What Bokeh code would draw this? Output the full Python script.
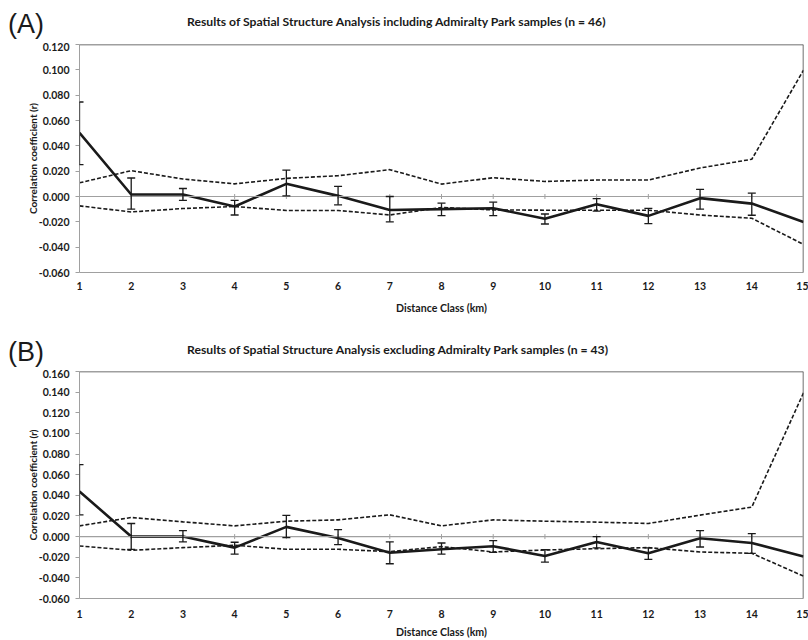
import math
from bokeh.plotting import figure
from bokeh.layouts import column, row
from bokeh.models import (ColumnDataSource, Whisker, TeeHead, Span, Div, Spacer,
                          NumeralTickFormatter, FixedTicker, Range1d)
from bokeh.embed import file_html
from bokeh.resources import INLINE

classes = list(range(1, 16))
x_ticks = list(range(1, 16))

# Panel A (including Admiralty Park, n = 46)
a_mean = [0.0503, 0.0016, 0.0016, -0.0079, 0.0100, 0.0005, -0.0106, -0.0100,
          -0.0093, -0.0175, -0.0061, -0.0153, -0.0013, -0.0056, -0.0201]
a_err_hi = [0.0746, 0.0146, 0.0063, -0.0030, 0.0209, 0.0080, 0.0000, -0.0053,
            -0.0045, -0.0138, -0.0016, -0.0093, 0.0056, 0.0026]
a_err_lo = [0.0251, -0.0100, -0.0030, -0.0146, 0.0005, -0.0066, -0.0200, -0.0151,
            -0.0151, -0.0217, -0.0116, -0.0214, -0.0100, -0.0148]
a_upper = [0.0108, 0.0204, 0.0138, 0.0100, 0.0143, 0.0164, 0.0212, 0.0098,
           0.0148, 0.0119, 0.0130, 0.0130, 0.0225, 0.0294, 0.0997]
a_lower = [-0.0074, -0.0122, -0.0095, -0.0079, -0.0110, -0.0110, -0.0146, -0.0087,
           -0.0106, -0.0108, -0.0108, -0.0108, -0.0146, -0.0172, -0.0378]
a_yticks = [-0.06, -0.04, -0.02, 0.0, 0.02, 0.04, 0.06, 0.08, 0.10, 0.12]
a_tag = "(A)"
a_title = "Results of Spatial Structure Analysis including Admiralty Park samples (n = 46)"

# Panel B (excluding Admiralty Park, n = 43)
b_mean = [0.0438, 0.0000, 0.0000, -0.0107, 0.0094, -0.0013, -0.0156, -0.0123,
          -0.0094, -0.0188, -0.0052, -0.0162, -0.0016, -0.0062, -0.0192]
b_err_hi = [0.0698, 0.0127, 0.0058, -0.0055, 0.0205, 0.0068, -0.0052, -0.0062,
            -0.0039, -0.0127, 0.0000, -0.0110, 0.0058, 0.0029]
b_err_lo = [0.0211, -0.0123, -0.0052, -0.0169, -0.0010, -0.0078, -0.0263, -0.0169,
            -0.0153, -0.0247, -0.0110, -0.0221, -0.0101, -0.0162]
b_upper = [0.0104, 0.0185, 0.0143, 0.0104, 0.0149, 0.0162, 0.0211, 0.0104,
           0.0162, 0.0149, 0.0140, 0.0127, 0.0208, 0.0286, 0.1393]
b_lower = [-0.0091, -0.0133, -0.0107, -0.0084, -0.0123, -0.0123, -0.0146, -0.0097,
           -0.0149, -0.0130, -0.0117, -0.0107, -0.0149, -0.0162, -0.0383]
b_yticks = [-0.06, -0.04, -0.02, 0.0, 0.02, 0.04, 0.06, 0.08, 0.10, 0.12, 0.14, 0.16]
b_tag = "(B)"
b_title = "Results of Spatial Structure Analysis excluding Admiralty Park samples (n = 43)"

FONT = "Lato"
AX_GRAY = "#a0a0a0"
INK = "#1a1a1a"


def header(tag, title, height, tag_top, title_top):
    tag_div = Div(
        text=(f'<div style="margin-top:{tag_top}px;margin-left:8px;'
              f'line-height:30px;font-family:\'Liberation Sans\';'
              f'font-size:27px;color:{INK};white-space:nowrap">{tag}</div>'),
        width=79, height=height, margin=0)
    title_div = Div(
        text=(f'<div style="margin-top:{title_top}px;margin-left:108px;'
              f'line-height:16px;font-family:{FONT};font-weight:bold;'
              f'font-size:12.2px;color:{INK};white-space:nowrap">{title}</div>'),
        width=729, height=height, margin=0)
    return row(tag_div, title_div, spacing=0)


def make_panel(mean, hi, lo, upper, lower, yticks, height, bottom,
               tick_standoff, label_standoff):
    p = figure(width=793, height=height, output_backend="svg",
               toolbar_location=None, tools="",
               x_range=Range1d(classes[0], classes[-1]),
               y_range=Range1d(yticks[0], yticks[-1]),
               min_border_left=64, min_border_right=5,
               min_border_top=2, min_border_bottom=bottom)
    p.background_fill_color = "white"
    p.border_fill_color = "white"
    p.outline_line_color = None
    p.grid.visible = False

    xa = p.xaxis[0]
    xa.ticker = FixedTicker(ticks=x_ticks)
    xa.axis_line_color = AX_GRAY
    xa.major_tick_line_color = None
    xa.minor_tick_line_color = None
    xa.major_tick_out = 0
    xa.major_label_standoff = tick_standoff
    xa.major_label_text_font = FONT
    xa.major_label_text_font_style = "bold"
    xa.major_label_text_font_size = "10.5px"
    xa.major_label_text_color = INK
    xa.axis_label = "Distance Class (km)"
    xa.axis_label_text_font = FONT
    xa.axis_label_text_font_style = "bold"
    xa.axis_label_text_font_size = "10.6px"
    xa.axis_label_text_color = INK
    xa.axis_label_standoff = label_standoff

    ya = p.yaxis[0]
    ya.ticker = FixedTicker(ticks=yticks)
    ya.formatter = NumeralTickFormatter(format="0.000")
    ya.axis_line_color = AX_GRAY
    ya.major_tick_line_color = AX_GRAY
    ya.major_tick_out = 4
    ya.major_tick_in = 0
    ya.minor_tick_line_color = None
    ya.major_label_standoff = 6
    ya.major_label_text_font = FONT
    ya.major_label_text_font_style = "bold"
    ya.major_label_text_font_size = "10.5px"
    ya.major_label_text_color = INK
    ya.axis_label = "Correlation coefficient (r)"
    ya.axis_label_text_font = FONT
    ya.axis_label_text_font_style = "bold"
    ya.axis_label_text_font_size = "10px"
    ya.axis_label_text_color = INK
    ya.axis_label_standoff = -3

    # top / right border of the chart area
    p.add_layout(Span(location=yticks[-1], dimension="width",
                      line_color="#404040", line_width=1.5))
    p.add_layout(Span(location=classes[-1], dimension="height",
                      line_color="#404040", line_width=1.5))

    # zero line with small tick marks
    p.add_layout(Span(location=0, dimension="width", line_color=AX_GRAY,
                      line_width=1.2))
    p.scatter(x=classes[1:-1], y=[0] * len(classes[1:-1]), marker="dash",
              angle=math.pi / 2, size=5, line_color=AX_GRAY, line_width=1)

    # significance envelope
    p.line(classes, upper, line_color=INK, line_width=1.6, line_dash="4 2")
    p.line(classes, lower, line_color=INK, line_width=1.6, line_dash="4 2")

    # mean correlation
    p.line(classes, mean, line_color=INK, line_width=2.6)

    src = ColumnDataSource(dict(x=classes[:len(hi)], hi=hi, lo=lo))
    w = Whisker(base="x", upper="hi", lower="lo", source=src,
                line_color=INK, line_width=1.3,
                upper_head=TeeHead(size=8, line_color=INK, line_width=1.3),
                lower_head=TeeHead(size=8, line_color=INK, line_width=1.3))
    w.level = "overlay"
    p.add_layout(w)
    return row(Spacer(width=15, height=height, margin=0), p, spacing=0)


ha = header(a_tag, a_title, 42, 9, 14)
pa = make_panel(a_mean, a_err_hi, a_err_lo, a_upper, a_lower, a_yticks,
                274, 43, 9, 9)
hb = header(b_tag, b_title, 53, 21, 26)
pb = make_panel(b_mean, b_err_hi, b_err_lo, b_upper, b_lower, b_yticks,
                271, 41, 11, 5)

layout = column(ha, pa, hb, pb, spacing=0)
open("out.html", "w").write(file_html(layout, INLINE))
